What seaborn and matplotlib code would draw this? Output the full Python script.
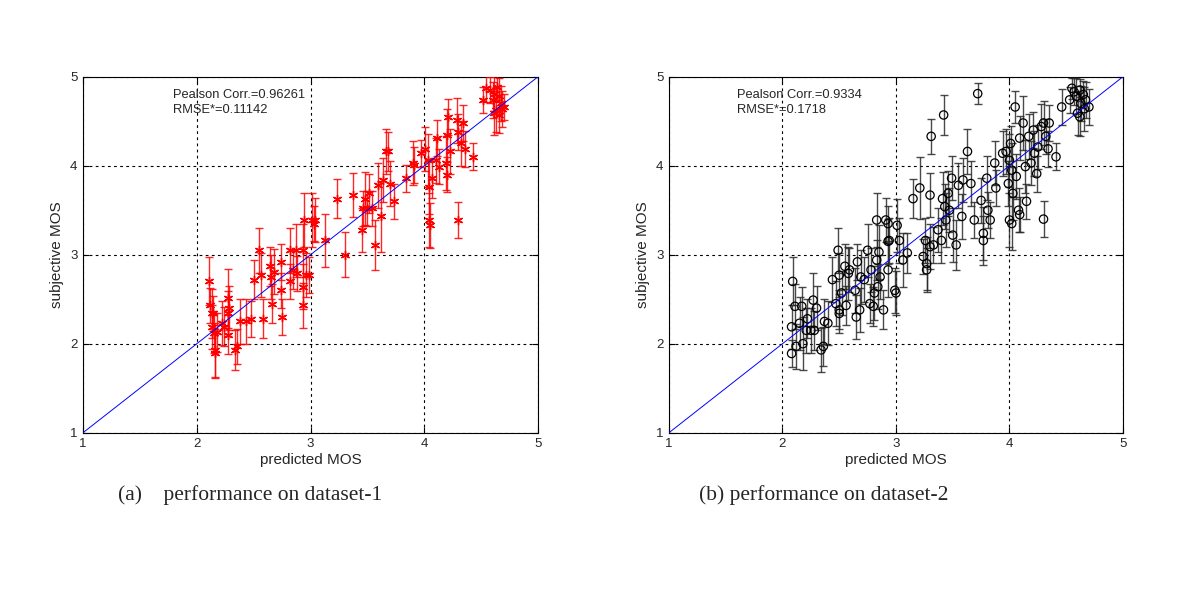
import numpy as np
import pandas as pd
import matplotlib.pyplot as plt
import seaborn as sns

sns.set_style("white")
plt.rcParams["font.family"] = ["Liberation Sans", "DejaVu Sans"]

# dataset-1: predicted MOS, subjective MOS, half length of error bar
pred_1 = [2.11, 2.12, 2.13, 2.13, 2.15, 2.16, 2.16, 2.14, 2.18, 2.22, 2.24, 2.27, 2.27, 2.28, 2.27,
          2.34, 2.35, 2.38, 2.43, 2.48, 2.50, 2.55, 2.56, 2.58, 2.64, 2.65, 2.66, 2.68, 2.74, 2.74,
          2.75, 2.82, 2.82, 2.85, 2.87, 2.88, 2.93, 2.93, 2.94, 2.96, 2.99, 2.93, 3.01, 3.03, 3.04,
          3.13, 3.23, 3.30, 3.37, 3.45, 3.46, 3.48, 3.50, 3.51, 3.54, 3.57, 3.59, 3.62, 3.64, 3.66,
          3.68, 3.70, 3.73, 3.84, 3.90, 3.91, 3.97, 4.01, 4.03, 4.04, 4.04, 4.05, 4.07, 4.10, 4.11,
          4.13, 4.19, 4.20, 4.20, 4.21, 4.23, 4.29, 4.30, 4.30, 4.32, 4.34, 4.36, 4.43, 4.52, 4.54,
          4.58, 4.61, 4.63, 4.64, 4.66, 4.67, 4.61, 4.68, 4.66, 4.70, 4.60]
subj_1 = [2.70, 2.43, 2.34, 2.19, 2.12, 1.93, 1.89, 2.34, 2.13, 2.23, 2.19, 2.51, 2.34, 2.40, 2.10,
          1.93, 1.97, 2.25, 2.25, 2.28, 2.72, 3.05, 2.77, 2.28, 2.87, 2.75, 2.45, 2.81, 2.60, 2.92,
          2.30, 3.05, 2.70, 2.83, 3.05, 2.79, 3.05, 2.43, 3.39, 2.77, 2.77, 2.64, 3.39, 3.35, 3.39,
          3.16, 3.63, 3.00, 3.67, 3.28, 3.52, 3.63, 3.52, 3.69, 3.52, 3.11, 3.78, 3.43, 3.84, 4.16,
          4.16, 3.80, 3.60, 3.86, 4.03, 4.01, 4.14, 4.19, 4.06, 3.76, 3.39, 3.33, 3.86, 4.06, 4.31,
          3.99, 4.03, 4.34, 3.90, 4.55, 4.16, 4.51, 4.38, 3.39, 4.25, 4.48, 4.19, 4.10, 4.74, 4.87,
          4.85, 4.81, 4.63, 4.89, 4.78, 4.70, 4.59, 4.64, 4.57, 4.66, 4.74]
err_1 = [0.27, 0.20, 0.28, 0.25, 0.22, 0.30, 0.28, 0.20, 0.22, 0.25, 0.22, 0.33, 0.25, 0.25, 0.22,
         0.22, 0.20, 0.25, 0.25, 0.20, 0.22, 0.25, 0.25, 0.22, 0.22, 0.25, 0.22, 0.25, 0.20, 0.20,
         0.20, 0.25, 0.20, 0.22, 0.30, 0.20, 0.30, 0.25, 0.30, 0.25, 0.20, 0.25, 0.30, 0.20, 0.25,
         0.30, 0.22, 0.25, 0.25, 0.25, 0.20, 0.30, 0.20, 0.22, 0.20, 0.28, 0.25, 0.40, 0.25, 0.25,
         0.22, 0.25, 0.20, 0.15, 0.25, 0.20, 0.15, 0.25, 0.30, 0.30, 0.30, 0.25, 0.22, 0.25, 0.20,
         0.20, 0.30, 0.30, 0.20, 0.20, 0.25, 0.25, 0.20, 0.20, 0.25, 0.20, 0.20, 0.15, 0.15, 0.15,
         0.15, 0.20, 0.25, 0.15, 0.20, 0.20, 0.25, 0.20, 0.20, 0.15, 0.20]

# dataset-2
pred_2 = [2.09, 2.08, 2.08, 2.11, 2.12, 2.15, 2.17, 2.18, 2.21, 2.22, 2.25, 2.27, 2.28, 2.30, 2.34,
          2.36, 2.37, 2.40, 2.44, 2.47, 2.49, 2.50, 2.50, 2.50, 2.52, 2.55, 2.56, 2.58, 2.59, 2.64,
          2.65, 2.66, 2.68, 2.69, 2.72, 2.75, 2.77, 2.78, 2.80, 2.81, 2.83, 2.83, 2.84, 2.85, 2.86,
          2.89, 2.91, 2.93, 2.93, 2.94, 2.93, 2.99, 3.00, 3.01, 3.03, 3.06, 3.10, 3.15, 3.21, 3.24,
          3.26, 3.27, 3.27, 3.30, 3.31, 3.30, 3.33, 3.37, 3.40, 3.41, 3.42, 3.43, 3.44, 3.46, 3.47,
          3.49, 3.50, 3.53, 3.55, 3.58, 3.59, 3.63, 3.66, 3.69, 3.72, 3.75, 3.77, 3.77, 3.80, 3.81,
          3.83, 3.87, 3.88, 3.94, 3.97, 3.99, 4.00, 4.00, 4.02, 4.01, 4.02, 4.03, 4.05, 4.06, 4.08,
          4.09, 4.09, 4.12, 4.14, 4.15, 4.17, 4.19, 4.21, 4.22, 4.24, 4.25, 4.28, 4.30, 4.30, 4.32,
          4.34, 4.35, 4.41, 4.46, 4.53, 4.55, 4.57, 4.59, 4.60, 4.62, 4.63, 4.65, 4.66, 4.67, 4.70,
          4.62]
subj_2 = [2.70, 2.19, 1.89, 2.42, 1.97, 2.23, 2.42, 2.00, 2.15, 2.28, 2.15, 2.49, 2.15, 2.40, 1.93,
          1.97, 2.25, 2.23, 2.72, 2.45, 3.05, 2.77, 2.38, 2.34, 2.57, 2.87, 2.43, 2.79, 2.83, 2.60,
          2.30, 2.92, 2.38, 2.75, 2.72, 3.05, 2.45, 2.83, 2.42, 2.57, 2.94, 3.39, 2.64, 3.03, 2.75,
          2.38, 3.39, 3.35, 3.15, 3.16, 2.83, 2.60, 2.57, 3.33, 3.16, 2.94, 3.02, 3.63, 3.75, 2.98,
          3.16, 2.83, 2.90, 3.67, 4.33, 3.09, 3.11, 3.28, 3.16, 3.63, 4.57, 3.54, 3.39, 3.69, 3.50,
          3.86, 3.22, 3.11, 3.78, 3.43, 3.84, 4.16, 3.80, 3.39, 4.81, 3.61, 3.24, 3.16, 3.86, 3.50,
          3.39, 4.03, 3.75, 4.14, 4.16, 3.80, 4.06, 3.39, 3.35, 4.25, 3.95, 3.69, 4.66, 3.88, 3.50,
          3.45, 4.31, 4.48, 3.99, 3.60, 4.33, 4.03, 4.40, 4.14, 3.91, 4.21, 4.44, 3.40, 4.48, 4.33,
          4.19, 4.48, 4.10, 4.66, 4.74, 4.87, 4.83, 4.78, 4.59, 4.85, 4.70, 4.80, 4.64, 4.74, 4.66,
          4.55]
err_2 = [0.27, 0.25, 0.15, 0.25, 0.25, 0.30, 0.22, 0.30, 0.25, 0.22, 0.25, 0.30, 0.22, 0.25, 0.25,
         0.22, 0.25, 0.25, 0.25, 0.25, 0.25, 0.25, 0.22, 0.22, 0.25, 0.25, 0.22, 0.30, 0.25, 0.25,
         0.25, 0.20, 0.25, 0.30, 0.25, 0.30, 0.22, 0.25, 0.22, 0.30, 0.22, 0.30, 0.25, 0.30, 0.25,
         0.22, 0.25, 0.20, 0.25, 0.25, 0.30, 0.25, 0.25, 0.30, 0.25, 0.30, 0.22, 0.22, 0.35, 0.20,
         0.25, 0.25, 0.30, 0.25, 0.20, 0.25, 0.20, 0.25, 0.25, 0.30, 0.22, 0.25, 0.30, 0.25, 0.25,
         0.25, 0.30, 0.28, 0.25, 0.25, 0.25, 0.25, 0.25, 0.20, 0.12, 0.25, 0.30, 0.28, 0.25, 0.20,
         0.20, 0.25, 0.20, 0.25, 0.25, 0.25, 0.30, 0.30, 0.30, 0.20, 0.30, 0.30, 0.18, 0.25, 0.25,
         0.20, 0.25, 0.30, 0.30, 0.20, 0.25, 0.25, 0.20, 0.25, 0.20, 0.25, 0.25, 0.20, 0.25, 0.20,
         0.20, 0.20, 0.15, 0.20, 0.15, 0.12, 0.15, 0.20, 0.25, 0.12, 0.20, 0.15, 0.25, 0.20, 0.20,
         0.22]

stats = ["Pealson Corr.=0.96261\nRMSE*=0.11142", "Pealson Corr.=0.9334\nRMSE*=0.1718"]
captions = ["(a)    performance on dataset-1", "(b) performance on dataset-2"]
ticks = [1, 2, 3, 4, 5]

fig = plt.figure(figsize=(12, 5.97), dpi=100)
ax1 = fig.add_axes([0.0692, 0.2752, 0.3792, 0.5963])
ax2 = fig.add_axes([0.5575, 0.2752, 0.3783, 0.5963])

panels = [
    (ax1, pred_1, subj_1, err_1, "red", "red", (6, 2, 0), 1.79),
    (ax2, pred_2, subj_2, err_2, "#2a2a2a", "black", "o", 1.60),
]
for i, (ax, px, py, pe, ecol, mcol, mk, tx) in enumerate(panels):
    df = pd.DataFrame({"pred": px, "subj": py, "err": pe})
    ax.errorbar(df["pred"], df["subj"], yerr=df["err"], fmt="none", ecolor=ecol,
                elinewidth=1.0, capsize=2.8, capthick=1.0, alpha=0.85, zorder=3)
    if mk == "o":
        sns.scatterplot(data=df, x="pred", y="subj", ax=ax, marker="o", s=36,
                        facecolor="none", edgecolor=mcol, linewidth=0.9, zorder=4)
    else:
        sns.scatterplot(data=df, x="pred", y="subj", ax=ax, marker=mk, s=36,
                        color=mcol, edgecolor=mcol, linewidth=1.0, zorder=4)
    sns.lineplot(x=[1, 5], y=[1, 5], ax=ax, color="blue", linewidth=0.7, zorder=5)
    ax.set_xlim(1, 5)
    ax.set_ylim(1, 5)
    ax.set_xticks(ticks)
    ax.set_yticks(ticks)
    ax.grid(True, color="black", linestyle=(0, (2.5, 3)), linewidth=0.8)
    ax.set_axisbelow(True)
    for s in ax.spines.values():
        s.set_color("black")
        s.set_linewidth(0.8)
    ax.tick_params(direction="in", length=4, labelsize=9.5, color="black", pad=4,
                   top=True, right=True, bottom=True, left=True)
    ax.set_xlabel("predicted MOS", fontsize=11, labelpad=2)
    ax.set_ylabel("subjective MOS", fontsize=11, labelpad=4)
    ax.text(tx, 4.71, stats[i], fontsize=9.3, va="center", ha="left", linespacing=1.25,
            zorder=6)

fig.text(0.098, 0.171, captions[0], fontsize=15.5, family="Liberation Serif", va="center")
fig.text(0.5825, 0.171, captions[1], fontsize=15.5, family="Liberation Serif", va="center")

fig.savefig("out.png", dpi=100)
